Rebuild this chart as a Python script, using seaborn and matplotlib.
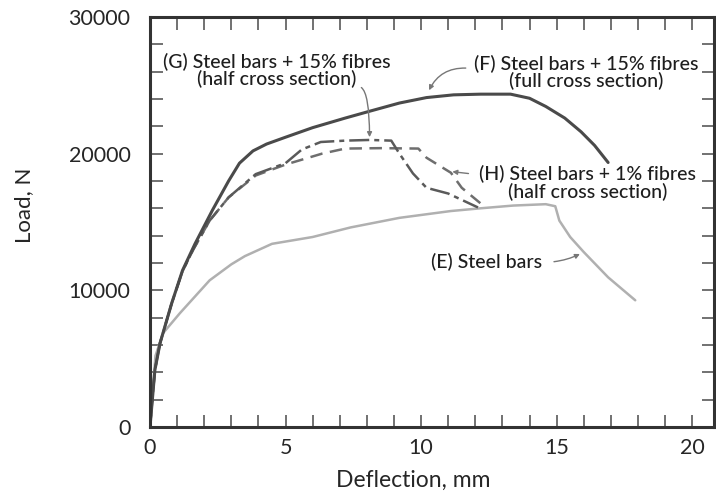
import matplotlib
matplotlib.use("Agg")
import matplotlib.pyplot as plt
import seaborn as sns
import pandas as pd
from matplotlib.ticker import MultipleLocator

# curves (deflection mm, load N)
f_x = [0, 0.18, 0.37, 0.8, 1.2, 1.66, 2.3, 2.9, 3.3, 3.8, 4.3, 5.0, 6.0, 7.2, 8.1, 9.2, 10.2, 11.2, 12.2, 13.3, 14.0, 14.6, 15.3, 15.9, 16.4, 16.9]
f_y = [0, 4160, 6130, 9050, 11460, 13400, 15850, 18000, 19300, 20200, 20700, 21200, 21900, 22600, 23100, 23700, 24100, 24300, 24350, 24350, 24050, 23450, 22600, 21600, 20600, 19350]

g_x = [0, 0.18, 0.37, 0.8, 1.2, 1.6, 2.2, 2.9, 3.9, 5.0, 5.6, 6.3, 7.2, 8.1, 8.9, 9.2, 9.7, 10.2, 11.0, 12.1]
g_y = [0, 4160, 6130, 9050, 11400, 13000, 15100, 16800, 18500, 19300, 20300, 20850, 20950, 21000, 20950, 20000, 18550, 17500, 17080, 16060]

h_x = [0, 0.18, 0.37, 0.8, 1.2, 1.6, 2.2, 2.9, 3.9, 5.0, 6.35, 7.2, 8.5, 9.9, 10.2, 11.1, 11.5, 12.2]
h_y = [0, 4160, 6130, 9050, 11400, 13000, 15100, 16800, 18400, 19200, 20000, 20370, 20400, 20370, 19700, 18600, 17500, 16350]

e_x = [0, 0.2, 0.48, 1.1, 2.2, 3.0, 3.5, 4.5, 6.0, 7.4, 9.2, 11.1, 12.2, 13.4, 14.6, 14.95, 15.1, 15.5, 16.0, 16.9, 17.9]
e_y = [0, 5200, 6860, 8320, 10730, 11900, 12500, 13400, 13900, 14600, 15300, 15800, 16000, 16200, 16300, 16150, 15100, 13900, 12800, 10950, 9270]

labels = {
    "G": "(G) Steel bars + 15% fibres\n(half cross section)",
    "F": "(F) Steel bars + 15% fibres\n(full cross section)",
    "H": "(H) Steel bars + 1% fibres\n(half cross section)",
    "E": "(E) Steel bars",
}

sns.set_style("ticks")
plt.rcParams["font.family"] = ["Lato", "DejaVu Sans"]

fig = plt.figure(figsize=(7.16, 4.98), dpi=100)
ax = fig.add_axes([0.2095, 0.1426, 0.7875, 0.8234])

sns.lineplot(data=pd.DataFrame({"x": e_x, "y": e_y}), x="x", y="y", sort=False, ax=ax,
             color="#b0b0b0", lw=1.8)
sns.lineplot(data=pd.DataFrame({"x": h_x, "y": h_y}), x="x", y="y", sort=False, ax=ax,
             color="#6e6e6e", lw=1.8, linestyle=(0, (5, 3)))
sns.lineplot(data=pd.DataFrame({"x": g_x, "y": g_y}), x="x", y="y", sort=False, ax=ax,
             color="#5a5a5a", lw=1.8, linestyle=(0, (8, 2, 2, 2)))
sns.lineplot(data=pd.DataFrame({"x": f_x, "y": f_y}), x="x", y="y", sort=False, ax=ax,
             color="#4a4a4a", lw=2.2)

ax.set_xlim(0, 20.8)
ax.set_ylim(0, 30000)
ax.xaxis.set_major_locator(MultipleLocator(5))
ax.xaxis.set_minor_locator(MultipleLocator(1))
ax.yaxis.set_major_locator(MultipleLocator(10000))
ax.yaxis.set_minor_locator(MultipleLocator(2000))
ax.tick_params(which="both", direction="in", top=True, right=True, length=9,
               width=1.3, color="#666666")
ax.tick_params(axis="y", which="major", labelsize=15.5, pad=14)
ax.tick_params(axis="x", which="major", labelsize=15.5, pad=8)
for s in ax.spines.values():
    s.set_linewidth(2.2)
    s.set_color("#333333")

ax.set_xlabel("Deflection, mm", fontsize=16.5)
ax.set_ylabel("Load, N", fontsize=16)
ax.xaxis.set_label_coords(0.466, -0.105)
ax.yaxis.set_label_coords(-0.205, 0.54)

txt = dict(fontsize=14, ha="center", va="center", linespacing=0.95, color="#1e1e1e",
           fontweight="medium")
ax.text(4.69, 26100, labels["G"], **txt)
ax.text(16.1, 25940, labels["F"], **txt)
ax.text(16.15, 17850, labels["H"], **txt)
ax.text(12.4, 12070, labels["E"], **txt)

arr = dict(arrowstyle="-|>", color="#777777", lw=1.0, mutation_scale=7)
ax.annotate("", xy=(8.1, 21000), xytext=(7.7, 24900),
            arrowprops=dict(connectionstyle="angle3,angleA=0,angleB=90", **arr))
ax.annotate("", xy=(10.25, 24450), xytext=(11.75, 26250),
            arrowprops=dict(connectionstyle="arc3,rad=0.35", **arr))
ax.annotate("", xy=(11.05, 18700), xytext=(11.85, 18520), arrowprops=arr)
ax.annotate("", xy=(15.95, 12750), xytext=(14.8, 12070),
            arrowprops=dict(connectionstyle="arc3,rad=0.1", **arr))

fig.savefig("out.png", dpi=100)
